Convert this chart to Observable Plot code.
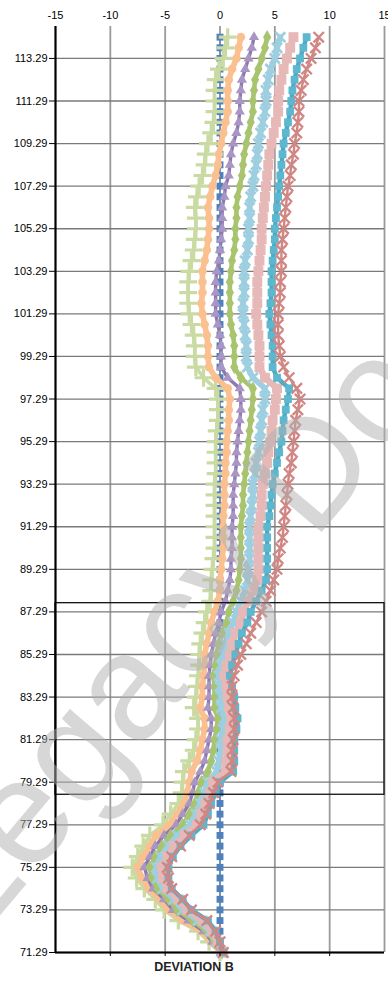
<!DOCTYPE html>
<html><head><meta charset="utf-8">
<script src="https://cdn.jsdelivr.net/npm/d3@7"></script>
<script src="https://cdn.jsdelivr.net/npm/@observablehq/plot@0.6"></script>
<style>
body{margin:0;background:#fff;font-family:"Liberation Sans",Arial,sans-serif;}
#wrap{position:relative;width:388px;height:982px;overflow:hidden;}
#xlabel{position:absolute;left:0;top:960px;width:388px;text-align:center;font-weight:bold;font-size:12.5px;color:#222;}
#wm{position:absolute;left:-24px;top:817px;font-size:150px;line-height:1;white-space:nowrap;color:rgba(175,175,175,0.5);transform-origin:0 127px;transform:rotate(-50deg);pointer-events:none;}
</style></head><body>
<div id="wrap"><div id="chart"></div><div id="xlabel">DEVIATION B</div><div id="wm">Legacy Docs</div></div>
<script>
const xTicks = [-15, -10, -5, 0, 5, 10, 15];
const yTicks = [71.29, 73.29, 75.29, 77.29, 79.29, 81.29, 83.29, 85.29, 87.29, 89.29, 91.29, 93.29, 95.29, 97.29, 99.29, 101.29, 103.29, 105.29, 107.29, 109.29, 111.29, 113.29];
const yTop = 114.79;
const zone = [{top: 87.7, bottom: 78.7}];

const depth = [71.29,71.79,72.29,72.79,73.29,73.79,74.29,74.79,75.29,75.79,
76.29,76.79,77.29,77.79,78.29,78.79,79.29,79.79,80.29,80.79,
81.29,81.79,82.29,82.79,83.29,83.79,84.29,84.79,85.29,85.79,
86.29,86.79,87.29,87.79,88.29,88.79,89.29,89.79,90.29,90.79,
91.29,91.79,92.29,92.79,93.29,93.79,94.29,94.79,95.29,95.79,
96.29,96.79,97.29,97.79,98.29,98.79,99.29,99.79,100.29,100.79,
101.29,101.79,102.29,102.79,103.29,103.79,104.29,104.79,105.29,105.79,
106.29,106.79,107.29,107.79,108.29,108.79,109.29,109.79,110.29,110.79,
111.29,111.79,112.29,112.79,113.29,113.79,114.29];

const initial = [0,0,0,0,0,0,0,0,0,0, 0,0,0,0,0,0,0,0,0,0, 0,0,0,0,0,0,0,0,0,0,
0,0,0,0,0,0,0,0,0,0, 0,0,0,0,0,0,0,0,0,0, 0,0,0,0,0,0,0,0,0,0,
0,0,0,0,0,0,0,0,0,0, 0,0,0,0,0,0,0,0,0,0, 0,0,0,0,0,0,0];

const read1 = [0.0,-1.0,-2.0,-3.8,-5.1,-5.9,-6.9,-7.6,-8.0,-7.5,
-7.0,-6.4,-5.2,-4.5,-3.8,-3.5,-3.4,-3.3,-2.8,-2.4,
-2.2,-2.0,-2.0,-2.4,-2.2,-2.1,-2.0,-1.9,-1.9,-1.8,
-1.6,-1.4,-1.2,-0.9,-0.8,-0.8,-0.7,-0.6,-0.5,-0.5,
-0.5,-0.5,-0.5,-0.5,-0.5,-0.4,-0.4,-0.4,-0.4,-0.3,
-0.2,-0.2,-0.2,-0.4,-1.5,-2.2,-2.3,-2.3,-2.4,-2.6,
-2.8,-2.9,-2.9,-2.9,-2.8,-2.6,-2.4,-2.3,-2.2,-2.2,
-2.3,-2.1,-1.9,-1.6,-1.4,-1.3,-1.1,-0.8,-0.6,-0.5,
-0.5,-0.5,-0.4,-0.1,0.3,0.5,0.7];

const read2 = [0.1,-0.8,-1.7,-3.4,-4.7,-5.5,-6.5,-7.1,-7.5,-7.0,
-6.4,-5.8,-4.6,-3.9,-3.3,-3.0,-2.8,-2.6,-2.1,-1.8,
-1.6,-1.4,-1.4,-1.8,-1.6,-1.6,-1.5,-1.4,-1.4,-1.2,
-1.0,-0.8,-0.5,-0.2,0.0,0.0,0.1,0.2,0.3,0.3,
0.3,0.3,0.4,0.4,0.4,0.5,0.5,0.6,0.6,0.7,
0.8,0.8,0.9,0.7,-0.4,-1.0,-1.1,-1.1,-1.2,-1.4,
-1.6,-1.7,-1.6,-1.6,-1.6,-1.4,-1.2,-1.1,-1.0,-1.0,
-1.1,-0.9,-0.7,-0.4,-0.2,-0.1,0.1,0.3,0.5,0.7,
0.7,0.7,0.8,1.1,1.5,1.7,1.9];

const read3 = [0.1,-0.7,-1.5,-2.9,-4.3,-5.1,-6.1,-6.6,-6.9,-6.4,
-5.9,-5.1,-4.0,-3.4,-2.8,-2.5,-2.3,-1.8,-1.4,-1.2,
-1.0,-0.8,-0.8,-1.1,-1.0,-1.0,-1.0,-0.9,-0.8,-0.6,
-0.4,-0.1,0.1,0.5,0.7,0.9,1.0,1.0,1.1,1.1,
1.1,1.2,1.2,1.2,1.3,1.4,1.5,1.5,1.6,1.7,
1.8,1.9,1.9,1.8,0.7,0.1,0.1,0.1,0.0,-0.2,
-0.4,-0.4,-0.4,-0.4,-0.3,-0.1,0.0,0.1,0.2,0.2,
0.2,0.4,0.5,0.8,0.9,1.0,1.2,1.5,1.7,1.8,
1.8,1.9,2.0,2.3,2.6,2.9,3.1];

const read4 = [0.2,-0.5,-1.2,-2.5,-3.9,-4.7,-5.7,-6.2,-6.4,-5.9,
-5.3,-4.5,-3.4,-2.8,-2.3,-2.0,-1.7,-1.1,-0.8,-0.6,
-0.5,-0.3,-0.2,-0.5,-0.5,-0.5,-0.6,-0.4,-0.3,-0.1,
0.2,0.6,0.8,1.2,1.5,1.7,1.8,1.9,1.9,1.9,
1.9,2.0,2.1,2.1,2.2,2.3,2.4,2.5,2.6,2.7,
2.8,2.9,3.0,3.0,1.9,1.3,1.3,1.3,1.2,1.0,
0.9,0.9,0.9,0.9,1.0,1.1,1.3,1.4,1.4,1.5,
1.5,1.6,1.8,2.0,2.1,2.2,2.4,2.6,2.8,3.0,
3.0,3.1,3.2,3.5,3.8,4.1,4.3];

const read5 = [0.2,-0.3,-0.9,-2.0,-3.4,-4.2,-5.2,-5.7,-5.8,-5.4,
-4.7,-3.9,-2.7,-2.2,-1.8,-1.4,-1.1,-0.3,-0.1,0.1,
0.1,0.3,0.4,0.1,0.1,0.0,-0.1,0.1,0.3,0.5,
0.8,1.2,1.5,1.9,2.3,2.5,2.6,2.7,2.7,2.7,
2.7,2.8,2.9,3.0,3.0,3.2,3.3,3.5,3.6,3.7,
3.8,3.9,4.1,4.1,3.0,2.5,2.4,2.4,2.3,2.2,
2.1,2.1,2.2,2.2,2.2,2.3,2.5,2.6,2.6,2.7,
2.7,2.8,3.0,3.1,3.3,3.4,3.5,3.7,3.9,4.1,
4.2,4.2,4.4,4.6,5.0,5.2,5.5];

const read6 = [0.3,-0.2,-0.7,-1.6,-3.0,-3.8,-4.8,-5.2,-5.3,-4.8,
-4.2,-3.2,-2.1,-1.7,-1.3,-0.9,-0.6,0.5,0.6,0.7,
0.7,0.9,1.0,0.8,0.7,0.6,0.4,0.6,0.9,1.1,
1.4,1.9,2.1,2.6,3.0,3.4,3.5,3.5,3.5,3.5,
3.5,3.7,3.8,3.8,3.9,4.1,4.3,4.4,4.6,4.7,
4.8,5.0,5.1,5.2,4.1,3.6,3.6,3.6,3.5,3.4,
3.3,3.4,3.4,3.4,3.5,3.6,3.7,3.8,3.8,3.9,
4.0,4.1,4.2,4.3,4.4,4.5,4.7,4.9,5.1,5.3,
5.3,5.4,5.6,5.8,6.1,6.4,6.7];

const read7 = [0.3,0.0,-0.4,-1.1,-2.6,-3.4,-4.4,-4.7,-4.7,-4.3,
-3.6,-2.6,-1.5,-1.1,-0.8,-0.4,0.0,1.2,1.3,1.3,
1.3,1.5,1.6,1.4,1.3,1.1,0.9,1.1,1.4,1.7,
2.0,2.5,2.8,3.3,3.8,4.2,4.3,4.3,4.3,4.3,
4.3,4.5,4.6,4.7,4.8,5.0,5.2,5.4,5.6,5.7,
5.8,6.0,6.2,6.3,5.2,4.8,4.8,4.8,4.7,4.6,
4.5,4.6,4.7,4.7,4.7,4.8,4.9,5.0,5.0,5.1,
5.2,5.3,5.4,5.5,5.6,5.7,5.8,6.0,6.2,6.4,
6.5,6.6,6.8,7.0,7.3,7.6,7.9];

const read8 = [0.3,0.0,-0.4,-1.2,-2.6,-3.4,-4.4,-4.7,-4.8,-4.4,
-3.6,-2.8,-1.8,-1.3,-1.0,-0.6,-0.2,1.0,1.1,1.1,
1.2,1.3,1.3,1.2,1.1,1.1,1.3,1.6,1.9,2.4,
2.8,3.3,3.8,4.2,4.6,4.9,5.2,5.3,5.5,5.7,
5.8,5.9,6.0,6.1,6.2,6.3,6.5,6.6,6.7,6.8,
6.9,7.1,7.3,7.0,6.3,5.8,5.5,5.4,5.3,5.3,
5.3,5.4,5.5,5.5,5.6,5.6,5.6,5.7,5.8,5.9,
6.0,6.1,6.2,6.4,6.5,6.7,6.8,7.0,7.1,7.2,
7.2,7.4,7.6,7.9,8.3,8.7,9.0];

const seriesList = [
  {values: initial, line: "#4F81BD", lw: 1, symbol: "square", fill: "#4F81BD", r: 3.9},
  {values: read1, line: "#C9DBA3", lw: 3.6, symbol: "plus", stroke: "#C9DBA3", r: 5.8, sw: 3.2},
  {values: read2, line: "#FAC090", lw: 5.6, symbol: "circle", fill: "#FAC090", r: 4.3},
  {values: read3, line: "#8E78B0", lw: 3.4, symbol: "triangle", fill: "#A996C4", r: 3.8},
  {values: read4, line: "#A9C46E", lw: 4.6, symbol: "diamond", fill: "#A9C46E", r: 4.3},
  {values: read5, line: "#9DCFE0", lw: 5.8, symbol: "times", stroke: "#9DCFE0", r: 4.6, sw: 2.8},
  {values: read6, line: "#E6B9B8", lw: 6.6, symbol: "square", fill: "#E6B9B8", r: 5.6},
  {values: read7, line: "#4BACC6", lw: 4.4, symbol: "square", fill: "#5DB7CF", r: 4.4},
  {values: read8, line: "#D08683", lw: 2.4, symbol: "times", stroke: "#D08683", r: 4.8, sw: 2.3}
];

const marks = [
  Plot.gridX(xTicks.slice(1), {stroke: "#9a9a9a", strokeOpacity: 1, strokeWidth: 1.8}),
  Plot.gridY(yTicks, {stroke: "#7a7a7a", strokeOpacity: 1, strokeWidth: 1.3}),
];
seriesList.forEach(s => {
  const data = s.values.map((v, i) => ({dev: v, depth: depth[i]}));
  marks.push(Plot.line(data, {x: "dev", y: "depth", stroke: s.line, strokeWidth: s.lw, curve: "linear"}));
  const opts = {x: "dev", y: "depth", r: s.r, symbol: s.symbol};
  if (s.fill) { opts.fill = s.fill; opts.stroke = "none"; }
  else { opts.stroke = s.stroke; opts.strokeWidth = s.sw; opts.fill = "none"; }
  marks.push(Plot.dot(data, opts));
});
marks.push(
  Plot.rect(zone, {x1: () => xTicks[0], x2: () => xTicks[xTicks.length - 1], y1: "bottom", y2: "top", fill: "none", stroke: "#111", strokeWidth: 1.3}),
  Plot.ruleX([xTicks[0]], {stroke: "#000", strokeWidth: 2.2}),
  Plot.ruleY([yTicks[0]], {stroke: "#000", strokeWidth: 2.2}),
  Plot.axisX({anchor: "top", ticks: xTicks, tickSize: 0, tickPadding: 8, label: null, fontSize: 11, tickFormat: d => String(d)}),
  Plot.axisX({anchor: "bottom", ticks: xTicks.slice(1, -1), tickSize: 4, tickFormat: () => "", label: null}),
  Plot.axisY({ticks: yTicks, tickSize: 6, tickPadding: 2, label: null, fontSize: 11, tickFormat: d => d.toFixed(2)})
);

const chart = Plot.plot({
  width: 388,
  height: 960,
  marginLeft: 55,
  marginRight: 4,
  marginTop: 26,
  marginBottom: 8,
  style: {fontFamily: "'Liberation Sans', Arial, sans-serif", color: "#000", overflow: "visible"},
  x: {domain: [xTicks[0], xTicks[xTicks.length - 1]]},
  y: {domain: [yTicks[0], yTop]},
  marks
});
document.getElementById("chart").appendChild(chart);
</script>
</body></html>
